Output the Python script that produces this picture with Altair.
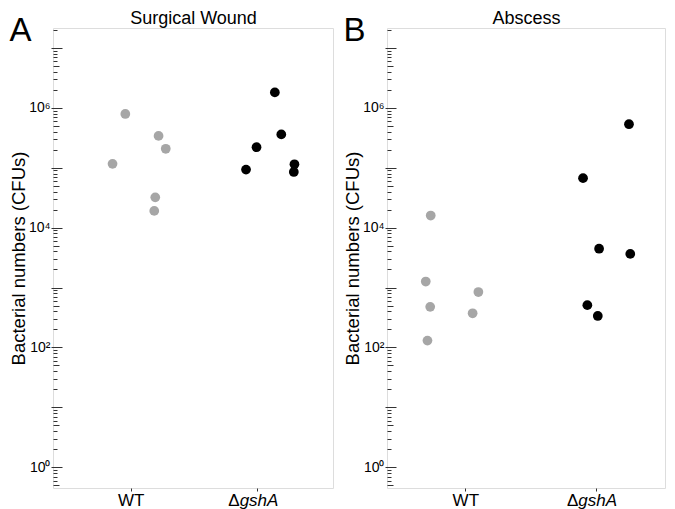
import altair as alt
import pandas as pd

FONT = "Liberation Sans"

# ---- data ----
GROUPS = ["WT", "ΔgshA"]
GROUP_POS = [1, 2]

# Surgical wound (panel A)
SW_WT_JITTER = [-0.043, 0.220, 0.277, -0.144, 0.194, 0.186]
SW_WT_CFU = [7.9e5, 3.4e5, 2.07e5, 1.16e5, 3.2e4, 1.9e4]
SW_KO_JITTER = [0.140, 0.191, -0.005, -0.088, 0.295, 0.290]
SW_KO_CFU = [1.81e6, 3.6e5, 2.2e5, 9.3e4, 1.14e5, 8.5e4]

# Abscess (panel B)
AB_WT_JITTER = [-0.265, -0.303, -0.269, -0.290, 0.100, 0.056]
AB_WT_CFU = [1.59e4, 1.26e3, 476, 130, 840, 371]
AB_KO_JITTER = [0.254, -0.098, 0.025, 0.264, -0.065, 0.015]
AB_KO_CFU = [5.33e5, 6.7e4, 4.45e3, 3.64e3, 508, 335]

# y axis
Y_DOMAIN = [0.45, 2.15e7]
LABEL_VALUES = [1, 100, 10000, 1000000]
LABEL_TEXT = ["10⁰", "10²", "10⁴", "10⁶"]
MAJOR_TICKS = [10.0 ** k for k in range(0, 8)]
MEDIUM_TICKS = [5 * 10.0 ** k for k in range(-1, 7)]
MINOR_TICKS = [m * 10.0 ** k for k in range(-1, 8) for m in (2, 3, 4, 6, 7, 8, 9)]
MINOR_TICKS = [v for v in MINOR_TICKS if Y_DOMAIN[0] <= v <= Y_DOMAIN[1]]

label_expr = " : ".join(
    f"datum.value == {v} ? '{t}'" for v, t in zip(LABEL_VALUES, LABEL_TEXT)
) + " : ''"

TICK_COLOR = "#333333"
AXIS_COLOR = "#808080"


def make_df(wt_jit, wt_cfu, ko_jit, ko_cfu):
    rows = []
    for j, c in zip(wt_jit, wt_cfu):
        rows.append({"group": GROUPS[0], "pos": GROUP_POS[0] + j, "cfu": c})
    for j, c in zip(ko_jit, ko_cfu):
        rows.append({"group": GROUPS[1], "pos": GROUP_POS[1] + j, "cfu": c})
    return pd.DataFrame(rows)


def panel(letter, name, df, width, height, xdom):
    yscale = alt.Scale(type="log", domain=Y_DOMAIN, nice=False)
    xscale = alt.Scale(domain=xdom, nice=False, zero=False)
    base = alt.Chart(df)

    pts = base.mark_circle(size=95, opacity=1).encode(
        x=alt.X("pos:Q", scale=xscale, title=None,
                axis=alt.Axis(orient="bottom", values=GROUP_POS, grid=False, domain=False,
                              labelExpr=f"datum.value == 1 ? '{GROUPS[0]}' : ''",
                              tickSize=3, tickColor=TICK_COLOR, labelPadding=1,
                              labelFontSize=17, labelColor="black", labelFont=FONT)),
        y=alt.Y("cfu:Q", scale=yscale,
                axis=alt.Axis(orient="left", values=LABEL_VALUES, labelExpr=label_expr,
                              grid=False, domain=False, tickSize=2, tickOpacity=0,
                              labelPadding=1, labelFontSize=14, labelColor="black",
                              labelFont=FONT,
                              title="Bacterial numbers (CFUs)", titleFontSize=18.5,
                              titleFontWeight="normal", titleColor="black",
                              titlePadding=0, titleFont=FONT)),
        color=alt.Color("group:N", scale=alt.Scale(domain=GROUPS, range=["#a6a6a6", "#000000"]),
                        legend=None),
    )

    delta = base.mark_circle(opacity=0).encode(
        x=alt.X("pos:Q", scale=xscale, title=None,
                axis=alt.Axis(orient="bottom", values=[GROUP_POS[1]], grid=False, domain=False,
                              labelExpr="'Δ'", labelAlign="right", labelOffset=-18,
                              tickSize=3, tickOpacity=0, labelPadding=1,
                              labelFontSize=17, labelColor="black", labelFont=FONT)),
        y=alt.Y("cfu:Q", scale=yscale, title=None,
                axis=alt.Axis(orient="right", offset=-(width + 2), values=MAJOR_TICKS,
                              labels=False, domain=False, grid=False, tickSize=11,
                              tickColor=TICK_COLOR, tickWidth=1)),
    )

    gsha = base.mark_circle(opacity=0).encode(
        x=alt.X("pos:Q", scale=xscale, title=None,
                axis=alt.Axis(orient="bottom", values=[GROUP_POS[1]], grid=False, domain=False,
                              labelExpr="'gshA'", labelAlign="left", labelOffset=-18,
                              labelFontStyle="italic",
                              tickSize=3, tickOpacity=0, labelPadding=1,
                              labelFontSize=17, labelColor="black", labelFont=FONT)),
        y=alt.Y("cfu:Q", scale=yscale, title=None,
                axis=alt.Axis(orient="right", offset=-width, values=MEDIUM_TICKS,
                              labels=False, domain=False, grid=False, tickSize=6,
                              tickColor=TICK_COLOR, tickWidth=1)),
    )

    minor = base.mark_circle(opacity=0).encode(
        x=alt.X("pos:Q", scale=xscale,
                axis=alt.Axis(orient="top", labels=False, ticks=False, domain=False, grid=False,
                              title=name, titleFontSize=18, titleFontWeight="normal",
                              titleColor="black", titlePadding=1, titleFont=FONT)),
        y=alt.Y("cfu:Q", scale=yscale, title=None,
                axis=alt.Axis(orient="right", offset=-width, values=MINOR_TICKS,
                              labels=False, domain=False, grid=False, tickSize=4,
                              tickColor=TICK_COLOR, tickWidth=1)),
    )

    return alt.layer(pts, delta, gsha, minor).resolve_axis(
        x="independent", y="independent"
    ).properties(
        width=width, height=height,
        title=alt.TitleParams(letter, anchor="start", frame="bounds", fontSize=33,
                              fontWeight="normal", font=FONT, color="black", offset=-39),
    )


df_a = make_df(SW_WT_JITTER, SW_WT_CFU, SW_KO_JITTER, SW_KO_CFU)
df_b = make_df(AB_WT_JITTER, AB_WT_CFU, AB_KO_JITTER, AB_KO_CFU)

chart_a = panel("A", "Surgical Wound", df_a, 280, 460, [0.385, 2.6])
chart_b = panel("B", "Abscess", df_b, 278, 460, [0.4, 2.53])

chart = alt.hconcat(chart_a, chart_b, spacing=8).properties(padding=0).configure_view(
    stroke=AXIS_COLOR, strokeWidth=1
).configure(font=FONT)

chart.save("out.html", embed_options={"renderer": "svg", "actions": False})
